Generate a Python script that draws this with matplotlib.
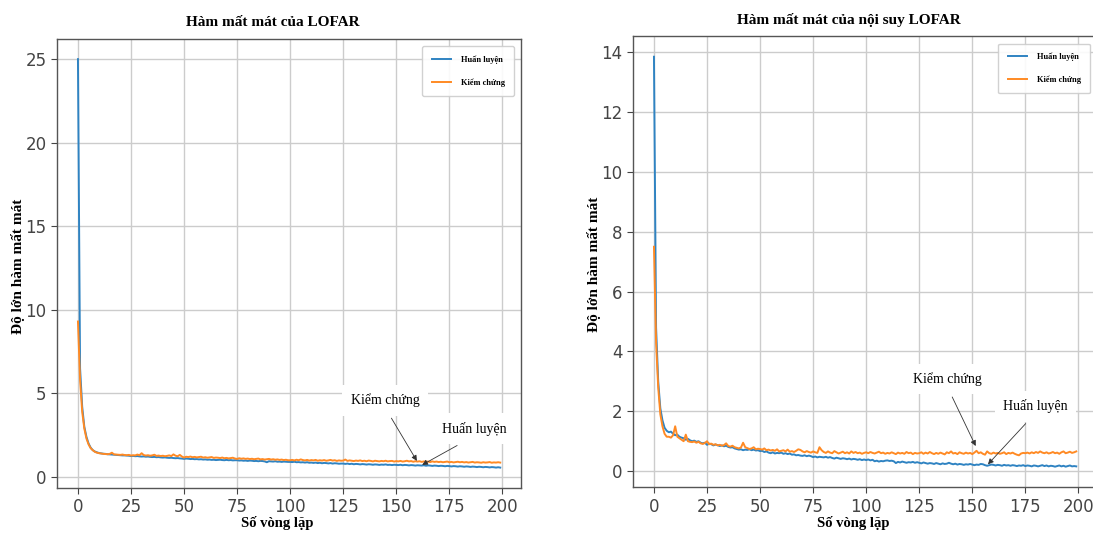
"""
Loss curves for LOFAR and interpolated LOFAR (two panels side by side)
"""

import matplotlib
matplotlib.use('Agg')
import matplotlib.pyplot as plt
import numpy as np

# ---- data ----
epochs = list(range(200))

lofar_train = [
    25.0, 6.5, 4.2, 3.0, 2.4, 2.0, 1.75, 1.6, 1.52, 1.47,
    1.43, 1.41, 1.39, 1.38, 1.36, 1.35, 1.34, 1.33, 1.32, 1.31,
    1.30, 1.29, 1.29, 1.28, 1.27, 1.25, 1.26, 1.24, 1.25, 1.23,
    1.22, 1.23, 1.21, 1.22, 1.20, 1.19, 1.20, 1.18, 1.19, 1.17,
    1.16, 1.17, 1.15, 1.14, 1.15, 1.13, 1.12, 1.13, 1.11, 1.10,
    1.08, 1.10, 1.09, 1.07, 1.08, 1.06, 1.07, 1.05, 1.06, 1.04,
    1.05, 1.03, 1.04, 1.02, 1.03, 1.01, 1.02, 1.03, 1.01, 1.00,
    1.02, 1.00, 1.01, 0.99, 1.00, 1.00, 0.98, 0.99, 0.97, 0.98,
    0.96, 0.98, 0.97, 0.95, 0.96, 0.94, 0.96, 0.95, 0.93, 0.88,
    0.94, 0.93, 0.92, 0.94, 0.91, 0.92, 0.90, 0.92, 0.91, 0.90,
    0.90, 0.89, 0.91, 0.88, 0.89, 0.87, 0.88, 0.86, 0.88, 0.85,
    0.86, 0.84, 0.86, 0.83, 0.85, 0.82, 0.84, 0.83, 0.81, 0.83,
    0.80, 0.82, 0.81, 0.79, 0.80, 0.80, 0.78, 0.80, 0.77, 0.79,
    0.76, 0.78, 0.77, 0.75, 0.77, 0.76, 0.74, 0.76, 0.75, 0.73,
    0.75, 0.74, 0.72, 0.74, 0.73, 0.75, 0.72, 0.73, 0.71, 0.73,
    0.72, 0.71, 0.73, 0.70, 0.72, 0.71, 0.69, 0.71, 0.70, 0.68,
    0.70, 0.69, 0.68, 0.70, 0.67, 0.69, 0.68, 0.66, 0.68, 0.67,
    0.65, 0.67, 0.66, 0.64, 0.66, 0.65, 0.63, 0.65, 0.64, 0.62,
    0.64, 0.63, 0.61, 0.63, 0.62, 0.60, 0.62, 0.61, 0.59, 0.61,
    0.60, 0.58, 0.60, 0.59, 0.57, 0.59, 0.58, 0.56, 0.58, 0.56,
]

lofar_val = [
    9.3, 5.8, 3.9, 2.9, 2.3, 1.95, 1.72, 1.6, 1.5, 1.45,
    1.42, 1.40, 1.38, 1.37, 1.36, 1.38, 1.45, 1.35, 1.34, 1.33,
    1.32, 1.34, 1.31, 1.30, 1.32, 1.28, 1.30, 1.29, 1.34, 1.30,
    1.42, 1.31, 1.28, 1.30, 1.27, 1.29, 1.33, 1.26, 1.28, 1.25,
    1.27, 1.24, 1.26, 1.29, 1.25, 1.35, 1.27, 1.24, 1.32, 1.22,
    1.16, 1.21, 1.19, 1.22, 1.18, 1.20, 1.17, 1.19, 1.21, 1.16,
    1.18, 1.15, 1.17, 1.19, 1.14, 1.16, 1.15, 1.13, 1.16, 1.12,
    1.14, 1.11, 1.13, 1.15, 1.10, 1.08, 1.12, 1.09, 1.11, 1.08,
    1.10, 1.07, 1.09, 1.06, 1.08, 1.10, 1.05, 1.07, 1.04, 1.06,
    1.08, 1.04, 1.06, 1.03, 1.05, 1.02, 1.04, 1.01, 1.03, 1.00,
    1.00, 1.02, 0.99, 1.03, 1.00, 1.05, 1.01, 0.99, 1.02, 0.98,
    1.01, 0.99, 1.02, 0.97, 1.00, 0.98, 1.01, 0.97, 0.99, 1.02,
    0.98, 1.00, 0.96, 0.99, 0.97, 0.98, 1.04, 0.96, 0.99, 0.97,
    0.95, 0.98, 0.96, 0.99, 0.95, 0.97, 0.94, 0.98, 0.96, 0.93,
    0.97, 0.95, 0.93, 0.96, 0.94, 0.97, 0.93, 0.95, 0.96, 0.92,
    0.95, 0.93, 0.96, 0.92, 0.94, 0.97, 0.93, 0.95, 0.91, 0.94,
    0.92, 0.94, 0.90, 0.93, 0.91, 0.92, 0.89, 0.93, 0.90, 0.92,
    0.89, 0.91, 0.88, 0.90, 0.92, 0.88, 0.90, 0.87, 0.89, 0.91,
    0.88, 0.90, 0.87, 0.89, 0.86, 0.88, 0.90, 0.86, 0.88, 0.87,
    0.85, 0.88, 0.86, 0.87, 0.89, 0.85, 0.87, 0.86, 0.88, 0.86,
]

interp_train = [
    13.85, 4.8, 3.0, 2.1, 1.7, 1.45, 1.35, 1.3, 1.32, 1.25,
    1.2, 1.22, 1.15, 1.12, 1.1, 1.05, 1.08, 1.03, 1.0, 1.02,
    0.98, 1.0, 0.95, 0.93, 0.95, 0.88, 0.92, 0.9, 0.86, 0.89,
    0.87, 0.84, 0.86, 0.83, 0.85, 0.81, 0.79, 0.8, 0.76, 0.74,
    0.72, 0.73, 0.7, 0.72, 0.71, 0.73, 0.7, 0.72, 0.69, 0.7,
    0.67, 0.68, 0.64, 0.66, 0.62, 0.6, 0.63, 0.59, 0.61, 0.6,
    0.62, 0.58, 0.6, 0.57, 0.59, 0.55, 0.56, 0.53, 0.54, 0.52,
    0.51, 0.53, 0.5, 0.52, 0.5, 0.47, 0.49, 0.46, 0.48, 0.47,
    0.46, 0.48, 0.45, 0.47, 0.44, 0.42, 0.45, 0.43, 0.41, 0.43,
    0.42, 0.4, 0.42, 0.39, 0.41, 0.4, 0.38, 0.4, 0.37, 0.39,
    0.37, 0.39, 0.36, 0.38, 0.33, 0.35, 0.32, 0.34, 0.33, 0.35,
    0.36, 0.34, 0.35, 0.33, 0.27, 0.31, 0.29, 0.32, 0.3, 0.28,
    0.3, 0.29, 0.31, 0.28, 0.3, 0.28, 0.26, 0.29, 0.27, 0.25,
    0.27, 0.26, 0.24, 0.27, 0.25, 0.23, 0.26, 0.24, 0.25, 0.28,
    0.25, 0.23, 0.25, 0.22, 0.24, 0.23, 0.21, 0.23, 0.22, 0.24,
    0.22, 0.2, 0.22, 0.21, 0.24, 0.23, 0.2, 0.18, 0.2, 0.22,
    0.21, 0.19, 0.21, 0.2, 0.18, 0.21, 0.19, 0.2, 0.18, 0.2,
    0.19, 0.17, 0.19, 0.18, 0.2, 0.17, 0.19, 0.18, 0.16, 0.19,
    0.18, 0.16, 0.18, 0.2, 0.17, 0.19, 0.16, 0.18, 0.17, 0.15,
    0.17, 0.19, 0.16, 0.18, 0.15, 0.17, 0.19, 0.16, 0.17, 0.16,
]

interp_val = [
    7.5, 4.3, 2.8, 1.9, 1.5, 1.25, 1.15, 1.15, 1.12, 1.2,
    1.5, 1.15, 1.1, 1.05, 1.0, 1.22, 1.0, 0.98, 0.97, 0.99,
    0.95, 0.98, 0.93, 0.91, 0.94, 1.0, 0.9, 0.92, 0.88, 0.9,
    0.86, 0.88, 0.85, 0.87, 0.93, 0.84, 0.82, 0.85, 0.8, 0.78,
    0.76, 0.79, 0.95, 0.8, 0.77, 0.74, 0.76, 0.8, 0.73, 0.75,
    0.74, 0.72, 0.76, 0.7, 0.72, 0.69, 0.71, 0.68, 0.73, 0.66,
    0.68, 0.7, 0.66, 0.72, 0.65, 0.67, 0.64, 0.68, 0.73, 0.71,
    0.66, 0.63, 0.67, 0.64, 0.62, 0.66, 0.63, 0.61, 0.8, 0.7,
    0.64, 0.61, 0.66, 0.62, 0.6, 0.67, 0.63, 0.59, 0.62, 0.65,
    0.6, 0.63, 0.59, 0.66, 0.61, 0.64, 0.6, 0.62, 0.58, 0.61,
    0.63, 0.6, 0.64, 0.61, 0.59, 0.62, 0.65, 0.6, 0.62, 0.58,
    0.61, 0.59, 0.63, 0.6, 0.57, 0.62, 0.59, 0.61, 0.58, 0.64,
    0.6, 0.62, 0.57, 0.61, 0.59, 0.6, 0.63, 0.58, 0.62, 0.59,
    0.64, 0.6, 0.57, 0.61, 0.58, 0.62, 0.59, 0.56, 0.63, 0.6,
    0.66, 0.59, 0.61, 0.57, 0.63, 0.6, 0.58, 0.62, 0.59, 0.61,
    0.57, 0.62, 0.68, 0.6, 0.63, 0.58, 0.55, 0.66, 0.6, 0.58,
    0.62, 0.59, 0.61, 0.58, 0.6, 0.63, 0.57, 0.61, 0.59, 0.62,
    0.58, 0.55, 0.53, 0.59, 0.61, 0.6, 0.62, 0.59, 0.63, 0.6,
    0.64, 0.61, 0.66, 0.62, 0.6, 0.63, 0.59, 0.61, 0.64, 0.6,
    0.62, 0.58, 0.63, 0.66, 0.6, 0.62, 0.65, 0.61, 0.63, 0.66,
]

titles = ['Hàm mất mát của LOFAR', 'Hàm mất mát của nội suy LOFAR']
xlabel = 'Số vòng lặp'
ylabel = 'Độ lớn hàm mất mát'
labels = ['Huấn luyện', 'Kiểm chứng']

# annotation points: (text x, text y, arrow x, arrow y) in data units
notes_left = {'Kiểm chứng': (144.7, 4.57, 159.7, 0.96),
              'Huấn luyện': (186.9, 2.88, 162.2, 0.72)}
notes_right = {'Kiểm chứng': (138.1, 3.07, 151.6, 0.84),
               'Huấn luyện': (179.7, 2.17, 157.4, 0.23)}

serif = ['Liberation Serif', 'DejaVu Serif']

fig = plt.figure(figsize=(10.93, 5.33), dpi=100)
ax1 = fig.add_axes([0.052, 0.0844, 0.425, 0.843])
ax2 = fig.add_axes([0.579, 0.086, 0.425, 0.846])

panels = [
    (ax1, lofar_train, lofar_val, titles[0], notes_left),
    (ax2, interp_train, interp_val, titles[1], notes_right),
]

for ax, train, val, title, notes in panels:
    ax.plot(epochs, train, color='#2f83c2', lw=1.4, label=labels[0])
    ax.plot(epochs, val, color='#ff8a24', lw=1.4, label=labels[1])

    ax.grid(True, color='#cccccc', lw=1.0)
    ax.set_axisbelow(True)
    for sp in ax.spines.values():
        sp.set_color('#555555')
        sp.set_linewidth(1.0)
    ax.tick_params(labelsize=12, colors='#444444', length=4)
    ax.set_xticks([0, 25, 50, 75, 100, 125, 150, 175, 200])

    ax.set_title(title, fontsize=11, fontweight='bold', family=serif,
                 x=0.465, pad=9)
    ax.set_xlabel(xlabel, fontsize=10.5, fontweight='bold', family=serif)
    ax.set_ylabel(ylabel, fontsize=11, fontweight='bold', family=serif)
    ax.xaxis.set_label_coords(0.474, -0.063)
    ax.yaxis.set_label_coords(-0.068, 0.494)

    ax.legend(loc='upper right', prop={'family': serif, 'size': 6, 'weight': 'bold'},
              labelspacing=1.7, handlelength=2.3, handletextpad=1.2,
              borderpad=1.1, borderaxespad=0.9, framealpha=0.9)

    for txt, (tx, ty, px, py) in notes.items():
        ax.annotate(txt, xy=(px, py), xytext=(tx, ty), fontsize=10,
                    family=serif, ha='center', va='center',
                    bbox=dict(boxstyle='square,pad=0.6', fc='white', ec='none'),
                    arrowprops=dict(arrowstyle='-|>', color='#333333', lw=0.6,
                                    mutation_scale=8, relpos=(0.5, 0.0),
                                    shrinkA=2, shrinkB=0))

fig.savefig('out.png', dpi=100)
